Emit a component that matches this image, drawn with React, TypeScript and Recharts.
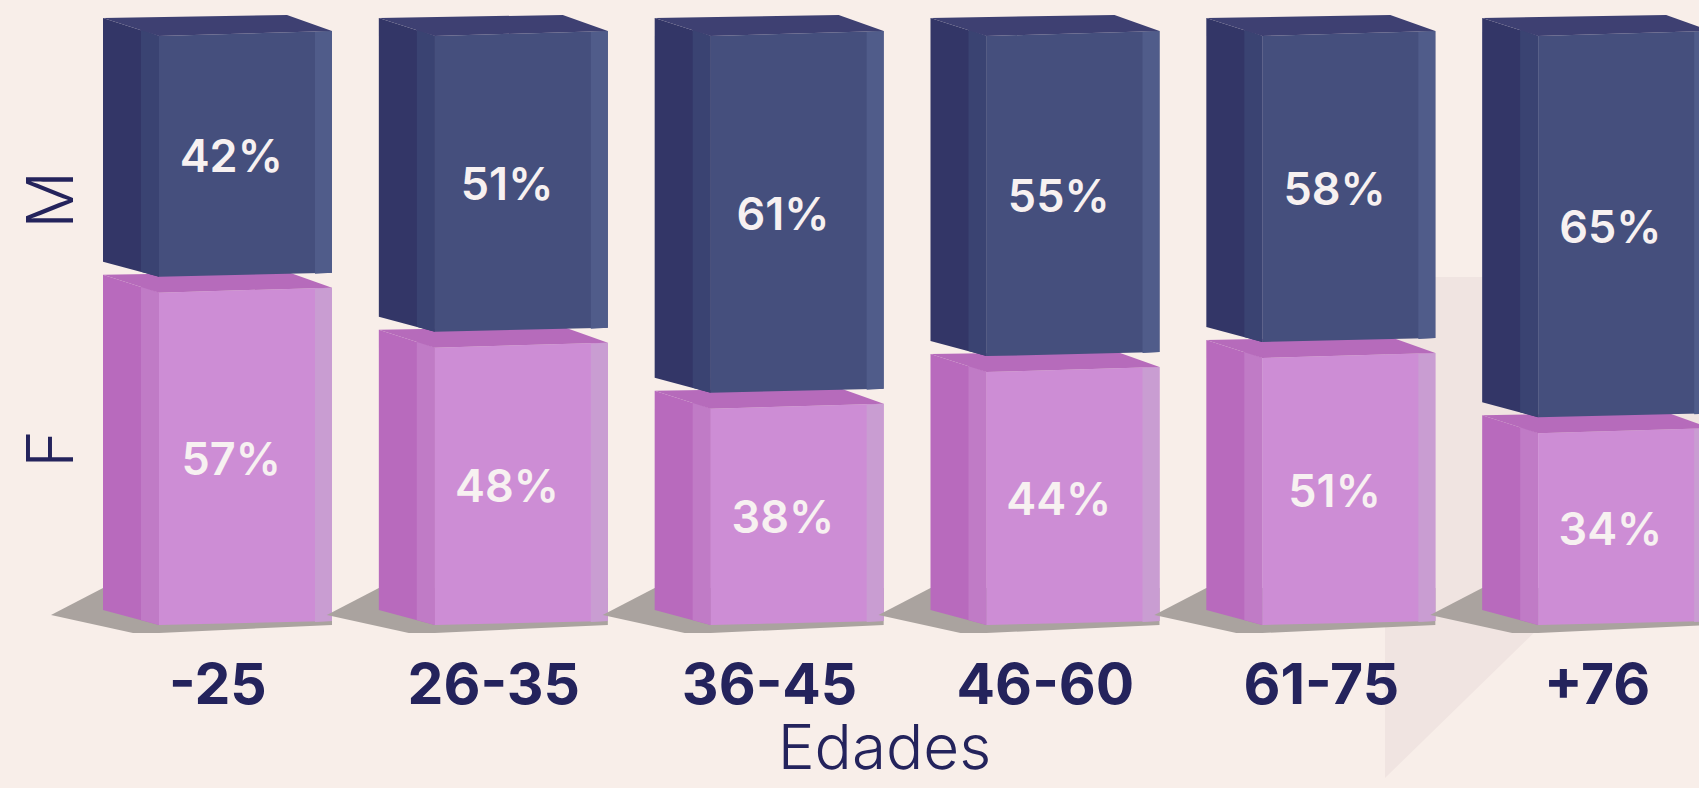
import React from 'react';
import { BarChart, Bar, XAxis, YAxis, LabelList, Customized } from 'recharts';

// ---- data ----
const ageGroups = ['-25', '26-35', '36-45', '46-60', '61-75', '+76'];
const femalePct = [57, 48, 38, 44, 51, 34];
const malePct = [42, 51, 61, 55, 58, 65];
const seriesLabels = ['F', 'M'];
const axisTitle = 'Edades';

const data = ageGroups.map((g, i) => ({ age: g, F: femalePct[i], M: malePct[i] }));

// ---- styles ----
const BG = '#f8eee9';
const NAVY = '#24235c';
const FONT = 'Inter, "Open Sans", sans-serif';
const DX = 56;

const palettes: any = {
  M: { top: '#3e4072', left: '#333667', strip: '#3a4372', front: '#454f7d', right: '#505c8a' },
  F: { top: '#b66bbb', left: '#b86abd', strip: '#c07bc6', front: '#cd8dd5', right: '#c99dd2' },
};

function Box3D(props: any) {
  const { x, y, width: w, height: h, pal, shadow } = props;
  if (x == null || y == null || !w || h == null) return null;
  const b = y + h;
  return (
    <g>
      {shadow && (
        <polygon
          points={`${x - 52},${b - 10} ${x},${b - 37} ${x + w},${b - 37} ${x + w},${b} ${x + DX},${b + 8} ${x + 30},${b + 8}`}
          fill="#aaa39f"
        />
      )}
      <polygon points={`${x},${y - 2} ${x + DX},${y + 16} ${x + DX},${b} ${x},${b - 15}`} fill={pal.left} />
      <polygon points={`${x + 38},${y + 9} ${x + DX},${y + 16} ${x + DX},${b} ${x + 38},${b - 5}`} fill={pal.strip} />
      <polygon points={`${x + DX},${y + 16} ${x + w},${y + 11} ${x + w},${b - 4} ${x + DX},${b}`} fill={pal.front} />
      <polygon points={`${x + w - 17},${y + 12} ${x + w},${y + 11} ${x + w},${b - 4} ${x + w - 17},${b - 3}`} fill={pal.right} />
      <polygon points={`${x},${y - 2} ${x + w - 45},${y - 5} ${x + w},${y + 11} ${x + DX},${y + 16}`} fill={pal.top} />
    </g>
  );
}

const FShape = (p: any) => <Box3D {...p} pal={palettes.F} shadow />;
const MShape = (p: any) => <Box3D {...p} pal={palettes.M} />;

const PctLabel = (p: any) => {
  const { x, y, width, height, value } = p;
  if (x == null || y == null) return null;
  const cx = x + width * 0.56;
  const cy = (y + 16 + y + height) / 2;
  return (
    <text x={cx} y={cy + 16} textAnchor="middle" fill="#f7f1f1" fontFamily={FONT} fontWeight={600} fontSize={45}>
      {`${value}%`}
    </text>
  );
};

const AgeTick = (p: any) => {
  const { x, payload } = p;
  return (
    <text x={x} y={704} textAnchor="middle" fill={NAVY} fontFamily={FONT} fontWeight={700} fontSize={57}>
      {payload.value}
    </text>
  );
};

const SideLabels = () => (
  <g fill={NAVY} fontFamily={FONT} fontWeight={300} fontSize={64}>
    <text transform="translate(73,200) rotate(-90)" textAnchor="middle">{seriesLabels[1]}</text>
    <text transform="translate(73,449) rotate(-90)" textAnchor="middle">{seriesLabels[0]}</text>
  </g>
);

export default function App() {
  return (
    <div style={{ position: 'fixed', left: 0, top: 0, width: 1699, height: 788, overflow: 'hidden', background: BG }}>
      <div
        style={{
          position: 'absolute', left: 0, top: 0, width: 1699, height: 788, background: '#f0e4e1',
          clipPath: 'polygon(1385px 277px, 1699px 277px, 1699px 472px, 1385px 778px)',
        }}
      />
      <div style={{ position: 'absolute', left: 0, top: 0 }}>
        <BarChart
          width={1760}
          height={788}
          data={data}
          stackOffset="expand"
          barSize={229}
          margin={{ top: 20, right: 25, left: 80, bottom: 0 }}
        >
          <XAxis
            dataKey="age"
            height={163}
            axisLine={false}
            tickLine={false}
            interval={0}
            tick={<AgeTick />}
            label={{
              value: axisTitle,
              position: 'insideBottom',
              offset: 19,
              dx: -23,
              style: { fill: NAVY, fontFamily: FONT, fontWeight: 300, fontSize: 62 },
            }}
          />
          <YAxis hide domain={[0, 1]} />
          <Bar dataKey="F" stackId="a" shape={<FShape />} isAnimationActive={false}>
            <LabelList dataKey="F" content={<PctLabel />} />
          </Bar>
          <Bar dataKey="M" stackId="a" shape={<MShape />} isAnimationActive={false}>
            <LabelList dataKey="M" content={<PctLabel />} />
          </Bar>
          <Customized component={SideLabels} />
        </BarChart>
      </div>
    </div>
  );
}
